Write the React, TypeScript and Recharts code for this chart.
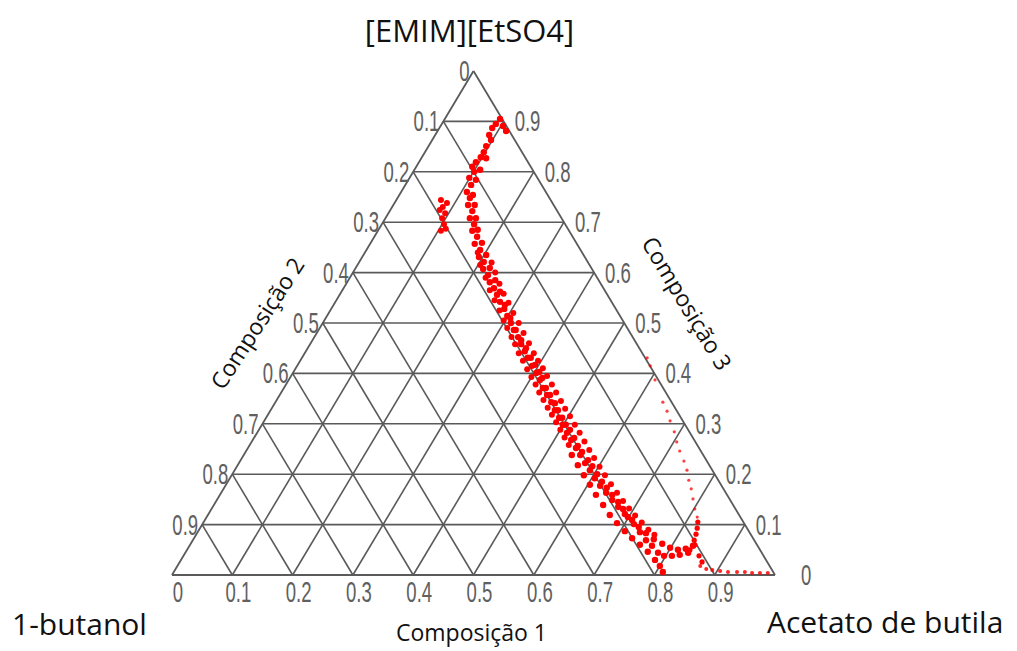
import React from 'react';
import { ScatterChart, Scatter, XAxis, YAxis, ReferenceLine } from 'recharts';

// Ternary diagram drawn on a plain x/y plane:
// x runs along the base (0 at 1-butanol, 1 at Acetato de butila), y is the height (1 at the apex).
const TICKS = [0, 0.1, 0.2, 0.3, 0.4, 0.5, 0.6, 0.7, 0.8, 0.9];
const GRID_STEPS = [0.1, 0.2, 0.3, 0.4, 0.5, 0.6, 0.7, 0.8, 0.9];

const CORNER_TOP = '[EMIM][EtSO4]';
const CORNER_LEFT = '1-butanol';
const CORNER_RIGHT = 'Acetato de butila';
const AXIS_TITLES = ['Composição 1', 'Composição 2', 'Composição 3'];

// measured points, [x, y]
const bandOuter: [number, number][] = [
  [0.544, 0.905], [0.537, 0.895], [0.549, 0.891], [0.554, 0.881], [0.531, 0.887], [0.526, 0.873],
  [0.529, 0.863], [0.521, 0.851], [0.517, 0.839], [0.512, 0.829], [0.504, 0.819], [0.498, 0.81],
  [0.501, 0.8], [0.493, 0.788], [0.496, 0.774], [0.489, 0.76], [0.494, 0.748], [0.491, 0.734],
  [0.498, 0.722], [0.494, 0.708], [0.501, 0.696], [0.498, 0.683], [0.506, 0.671], [0.502, 0.657],
  [0.511, 0.645], [0.509, 0.631], [0.517, 0.621], [0.516, 0.607], [0.524, 0.595], [0.527, 0.581],
  [0.534, 0.569], [0.539, 0.556], [0.544, 0.542], [0.551, 0.528], [0.556, 0.514], [0.562, 0.5],
  [0.567, 0.486], [0.574, 0.472], [0.579, 0.458], [0.585, 0.444], [0.59, 0.431], [0.597, 0.415],
  [0.604, 0.401], [0.61, 0.387], [0.615, 0.371], [0.622, 0.357], [0.629, 0.343], [0.635, 0.327],
  [0.642, 0.312], [0.648, 0.298], [0.655, 0.282], [0.662, 0.268], [0.67, 0.252], [0.677, 0.238],
  [0.685, 0.222], [0.693, 0.208], [0.701, 0.192], [0.71, 0.177], [0.72, 0.163], [0.73, 0.149],
  [0.74, 0.135], [0.751, 0.121], [0.763, 0.109], [0.774, 0.095], [0.786, 0.083], [0.799, 0.071],
  [0.813, 0.062], [0.826, 0.054], [0.839, 0.05], [0.852, 0.052], [0.864, 0.058],
];

const bandInner: [number, number][] = [
  [0.521, 0.827], [0.511, 0.804], [0.504, 0.784], [0.499, 0.754], [0.502, 0.734], [0.504, 0.708],
  [0.507, 0.685], [0.514, 0.659], [0.521, 0.635], [0.527, 0.609], [0.536, 0.585], [0.544, 0.562],
  [0.552, 0.536], [0.561, 0.51], [0.57, 0.486], [0.579, 0.466], [0.587, 0.45], [0.595, 0.431],
  [0.602, 0.417], [0.609, 0.403], [0.614, 0.391], [0.62, 0.371], [0.627, 0.357], [0.635, 0.341],
  [0.64, 0.327], [0.647, 0.312], [0.653, 0.298], [0.66, 0.288], [0.667, 0.272], [0.673, 0.256],
  [0.68, 0.244], [0.69, 0.228], [0.697, 0.216], [0.705, 0.2], [0.713, 0.185], [0.721, 0.173],
  [0.73, 0.159], [0.74, 0.145], [0.748, 0.131], [0.756, 0.115], [0.766, 0.101], [0.776, 0.085],
  [0.786, 0.069], [0.796, 0.058], [0.806, 0.044], [0.816, 0.038], [0.829, 0.038], [0.842, 0.04],
  [0.856, 0.044],
];

const bandWest: [number, number][] = [
  [0.507, 0.64], [0.511, 0.615], [0.52, 0.59], [0.527, 0.565], [0.535, 0.545], [0.543, 0.525],
  [0.55, 0.505], [0.556, 0.49], [0.563, 0.472], [0.569, 0.458], [0.575, 0.44], [0.582, 0.425],
  [0.589, 0.408], [0.596, 0.393], [0.603, 0.378], [0.609, 0.362], [0.616, 0.347], [0.623, 0.332],
  [0.63, 0.318], [0.637, 0.303], [0.644, 0.288], [0.651, 0.273], [0.658, 0.258],
];

const bandEast: [number, number][] = [
  [0.53, 0.62], [0.536, 0.6], [0.543, 0.578], [0.55, 0.558], [0.558, 0.54], [0.566, 0.52],
  [0.575, 0.5], [0.583, 0.48], [0.592, 0.46], [0.6, 0.44], [0.607, 0.425], [0.615, 0.41],
  [0.622, 0.395], [0.63, 0.378], [0.637, 0.362], [0.645, 0.345], [0.652, 0.33], [0.66, 0.315],
  [0.668, 0.298], [0.676, 0.282], [0.684, 0.265], [0.692, 0.248], [0.7, 0.232], [0.709, 0.215],
  [0.718, 0.198], [0.728, 0.18], [0.738, 0.163], [0.748, 0.147], [0.758, 0.132], [0.768, 0.118],
  [0.779, 0.104], [0.79, 0.09], [0.8, 0.08],
];

const bandLower: [number, number][] = [
  [0.663, 0.238], [0.673, 0.218], [0.683, 0.198], [0.693, 0.179], [0.703, 0.159], [0.715, 0.139],
  [0.726, 0.119], [0.738, 0.103], [0.751, 0.087], [0.763, 0.073], [0.776, 0.06], [0.789, 0.046],
  [0.801, 0.03], [0.809, 0.018], [0.814, 0.006],
];

const hook: [number, number][] = [
  [0.866, 0.069], [0.869, 0.081], [0.871, 0.093], [0.872, 0.105], [0.867, 0.06], [0.859, 0.05],
  [0.874, 0.038], [0.879, 0.026],
];

const leftCluster: [number, number][] = [
  [0.446, 0.744], [0.449, 0.73], [0.453, 0.718], [0.448, 0.708], [0.451, 0.696], [0.454, 0.687],
  [0.446, 0.683], [0.456, 0.738], [0.444, 0.724],
];

const dottedBranch: [number, number][] = [
  [0.788, 0.431], [0.793, 0.415], [0.801, 0.387], [0.814, 0.343], [0.821, 0.325], [0.826, 0.306],
  [0.833, 0.284], [0.837, 0.264], [0.842, 0.246], [0.849, 0.226], [0.854, 0.208], [0.857, 0.188],
  [0.861, 0.171], [0.864, 0.151], [0.867, 0.131], [0.871, 0.115],
];

const baseTrail: [number, number][] = [
  [0.876, 0.018], [0.886, 0.012], [0.896, 0.01], [0.909, 0.008], [0.922, 0.006], [0.937, 0.006],
  [0.95, 0.006], [0.962, 0.004], [0.975, 0.004], [0.988, 0.004],
];

const W = 1017;
const H = 651;
// where the triangle sits on the page: base from x=172 to 775 at y=575, apex at y=71
const LEFT = 172;
const BASE = 603;
const BOTTOM = 575;
const HEIGHT = 504;
const X_DOMAIN = [-LEFT / BASE, (W - LEFT) / BASE];
const Y_DOMAIN = [-(H - BOTTOM) / HEIGHT, BOTTOM / HEIGHT];

const GRID = '#5a5a5a';
const TICK_COLOR = '#606060';
const RED = '#ff0000';

const toPoints = (arr: [number, number][]) => arr.map(([x, y]) => ({ x, y }));

// grid segments: horizontal lines plus the two sloped families
const gridSegments = GRID_STEPS.flatMap((a) => [
  [{ x: a / 2, y: a }, { x: 1 - a / 2, y: a }],
  [{ x: a, y: 0 }, { x: a + (1 - a) / 2, y: 1 - a }],
  [{ x: a, y: 0 }, { x: a / 2, y: a }],
]);
const outline = [
  [{ x: 0, y: 0 }, { x: 1, y: 0 }],
  [{ x: 0, y: 0 }, { x: 0.5, y: 1 }],
  [{ x: 1, y: 0 }, { x: 0.5, y: 1 }],
];

const bottomTicks = TICKS.map((t) => ({ x: t, y: 0, label: String(t) }));
const leftTicks = TICKS.map((t) => ({ x: (1 - t) / 2, y: 1 - t, label: String(t) }));
const rightTicks = TICKS.map((t) => ({ x: 1 - t / 2, y: t, label: String(t) }));

const NarrowText = ({ x, y, anchor, text }: any) => (
  <g transform={`translate(${x},${y}) scale(0.64,1)`}>
    <text
      x={0}
      y={0}
      textAnchor={anchor}
      fontFamily="'Liberation Sans', Arial, sans-serif"
      fontSize={29}
      fill={TICK_COLOR}
    >
      {text}
    </text>
  </g>
);

const dot = (r: number, fill: string, opacity = 1) => (props: any) =>
  <circle cx={props.cx} cy={props.cy} r={r} fill={fill} fillOpacity={opacity} />;

const TITLE_FONT = "'Open Sans', 'Noto Sans', sans-serif";

const titles = [
  { x: 0.5, y: 1, text: CORNER_TOP, dx: -4, dy: -29, size: 31, anchor: 'middle', rotate: 0 },
  { x: 0, y: 0, text: CORNER_LEFT, dx: -160, dy: 60, size: 30, anchor: 'start', rotate: 0 },
  { x: 1, y: 0, text: CORNER_RIGHT, dx: -8, dy: 58, size: 30, anchor: 'start', rotate: 0 },
  { x: 0.5, y: 0, text: AXIS_TITLES[0], dx: -2, dy: 66, size: 23, anchor: 'middle', rotate: 0 },
  { x: 0.25, y: 0.5, text: AXIS_TITLES[1], dx: -66, dy: 0, size: 23, anchor: 'middle', rotate: -57 },
  { x: 0.75, y: 0.5, text: AXIS_TITLES[2], dx: 63, dy: -20, size: 23, anchor: 'middle', rotate: 59 },
];

export default function App() {
  return (
    <div style={{ position: 'absolute', left: 0, top: 0, background: '#fff' }}>
      <ScatterChart width={W} height={H} margin={{ top: 0, right: 0, bottom: 0, left: 0 }}>
        <XAxis type="number" dataKey="x" domain={X_DOMAIN} allowDataOverflow hide />
        <YAxis type="number" dataKey="y" domain={Y_DOMAIN} allowDataOverflow hide />

        {gridSegments.map((seg, i) => (
          <ReferenceLine key={`g${i}`} segment={seg} stroke={GRID} strokeWidth={1.6} ifOverflow="visible" />
        ))}
        {outline.map((seg, i) => (
          <ReferenceLine key={`o${i}`} segment={seg} stroke={GRID} strokeWidth={1.8} ifOverflow="visible" />
        ))}

        <Scatter data={toPoints(dottedBranch)} shape={dot(1.6, RED, 0.75)} isAnimationActive={false} />
        <Scatter data={toPoints(baseTrail)} shape={dot(2, RED, 0.85)} isAnimationActive={false} />
        <Scatter data={toPoints(bandOuter)} shape={dot(3.2, RED)} isAnimationActive={false} />
        <Scatter data={toPoints(bandInner)} shape={dot(3.2, RED)} isAnimationActive={false} />
        <Scatter data={toPoints(bandWest)} shape={dot(3, RED)} isAnimationActive={false} />
        <Scatter data={toPoints(bandEast)} shape={dot(3, RED)} isAnimationActive={false} />
        <Scatter data={toPoints(bandLower)} shape={dot(3.2, RED)} isAnimationActive={false} />
        <Scatter data={toPoints(hook)} shape={dot(2.6, RED)} isAnimationActive={false} />
        <Scatter data={toPoints(leftCluster)} shape={dot(3, RED)} isAnimationActive={false} />

        <Scatter
          data={bottomTicks}
          isAnimationActive={false}
          shape={(p: any) => <NarrowText x={p.cx + 6} y={p.cy + 27} anchor="middle" text={p.payload.label} />}
        />
        <Scatter
          data={leftTicks}
          isAnimationActive={false}
          shape={(p: any) => <NarrowText x={p.cx - 4} y={p.cy + 10} anchor="end" text={p.payload.label} />}
        />
        <Scatter
          data={rightTicks}
          isAnimationActive={false}
          shape={(p: any) => (
            <NarrowText
              x={p.cx + (p.payload.label === '0' ? 26 : 11)}
              y={p.cy + 10}
              anchor="start"
              text={p.payload.label}
            />
          )}
        />
        <Scatter
          data={titles}
          isAnimationActive={false}
          shape={(p: any) => {
            const t = p.payload;
            return (
              <g transform={`translate(${p.cx + t.dx},${p.cy + t.dy}) rotate(${t.rotate})`}>
                <text
                  x={0}
                  y={0}
                  textAnchor={t.anchor}
                  dominantBaseline={t.rotate ? 'central' : 'auto'}
                  fontFamily={TITLE_FONT}
                  fontSize={t.size}
                  fill="#111"
                >
                  {t.text}
                </text>
              </g>
            );
          }}
        />
      </ScatterChart>
    </div>
  );
}
